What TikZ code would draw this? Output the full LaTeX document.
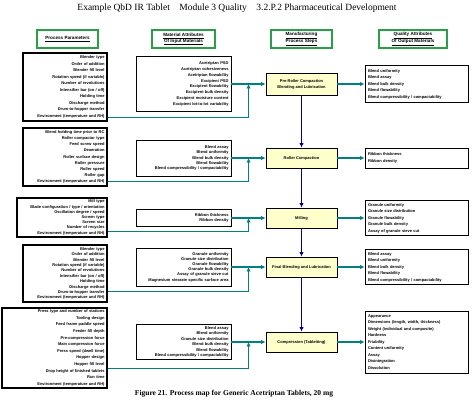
\documentclass[tikz,border=0pt]{standalone}
\usepackage{fontspec}
\setmainfont{Liberation Serif}
\setsansfont{Liberation Sans}
\usetikzlibrary{arrows.meta}
\definecolor{flowteal}{RGB}{0,128,128}
\definecolor{stepblue}{RGB}{0,0,150}
\definecolor{headgreen}{RGB}{40,160,70}
\definecolor{stepfill}{RGB}{255,255,204}

\begin{document}
\begin{tikzpicture}[x=1pt, y=-1pt]

% Set the overall frame of the page
\useasboundingbox (0,0) rectangle (474,403);

% Define styles for headers, boxes and steps
\tikzstyle{head} = [draw=headgreen, line width=1.6pt, fill=white, minimum height=18pt, inner sep=1pt, align=center, font=\sffamily\bfseries\fontsize{4.6}{5.8}\selectfont]
\tikzstyle{param} = [draw=black, line width=1.1pt, fill=white, inner xsep=2.5pt, inner ysep=1pt, text width=79pt, align=right, font=\sffamily\bfseries\fontsize{4}{6.2}\selectfont]
\tikzstyle{matin} = [draw=black, line width=0.9pt, fill=white, inner xsep=2.5pt, inner ysep=1pt, text width=90pt, align=right, font=\sffamily\bfseries\fontsize{4}{5.2}\selectfont]
\tikzstyle{matout} = [draw=black, line width=0.9pt, fill=white, inner xsep=3pt, inner ysep=1pt, text width=97pt, align=left, font=\sffamily\bfseries\fontsize{4}{6.5}\selectfont]
\tikzstyle{stepbox} = [draw=black, line width=0.9pt, fill=stepfill, minimum width=71pt, minimum height=20pt, align=center, font=\sffamily\bfseries\fontsize{4}{6}\selectfont]

% Define styles for the connectors
\tikzstyle{flow} = [draw=flowteal, line width=1.6pt, -{Latex[length=4.5pt,width=4.5pt]}]
\tikzstyle{down} = [draw=stepblue, line width=1.4pt, -{Latex[length=4.5pt,width=4.5pt]}]

% Title and caption
\node[font=\fontsize{9.5}{11}\selectfont] (title) at (237,8) {Example QbD IR Tablet\quad Module 3 Quality\quad 3.2.P.2 Pharmaceutical Development};
\node[font=\bfseries\fontsize{7.5}{9}\selectfont] (caption) at (234,394) {Figure 21. Process map for Generic Acetriptan Tablets, 20 mg};

% Column headers
\node[head, minimum width=61pt] (hpp) at (67.5,39) {\underline{Process Parameters}};
\node[head, minimum width=63pt] (hma) at (183.5,39) {\underline{Material Attributes}\\\underline{Of Input Materials}};
\node[head, minimum width=61pt] (hms) at (301.5,39) {\underline{Manufacturing}\\\underline{Process Steps}};
\node[head, minimum width=68pt] (hqa) at (413,39) {\underline{Quality Attributes}\\\underline{Of Output Materials}};

% Manufacturing steps
\node[stepbox, minimum height=22pt] (s1) at (301.5,84) {Pre-Roller Compaction\\Blending and Lubrication};
\node[stepbox] (s2) at (301.5,158) {Roller Compaction};
\node[stepbox] (s3) at (301.5,218) {Milling};
\node[stepbox] (s4) at (301.5,267) {Final Blending and Lubrication};
\node[stepbox] (s5) at (301.5,342) {Compression (Tabletting)};

% Process parameters
\node[param, minimum height=68pt, font=\sffamily\bfseries\fontsize{4}{6.5}\selectfont] (p1) at (65,87) {Blender type\\Order of addition\\Blender fill level\\Rotation speed (if variable)\\Number of revolutions\\Intensifier bar (on / off)\\Holding time\\Discharge method\\Drum-to-hopper transfer\\Environment (temperature and RH)};
\node[param, minimum height=58pt, font=\sffamily\bfseries\fontsize{4}{6.1}\selectfont] (p2) at (65,157) {Blend holding time prior to RC\\Roller compactor type\\Feed screw speed\\Deaeration\\Roller surface design\\Roller pressure\\Roller speed\\Roller gap\\Environment (temperature and RH)};
\node[param, minimum height=39pt, text width=85pt, font=\sffamily\bfseries\fontsize{4}{5.2}\selectfont] (p3) at (62,217.5) {Mill type\\Blade configuration / type / orientation\\Oscillation degree / speed\\Screen type\\Screen size\\Number of recycles\\Environment (temperature and RH)};
\node[param, minimum height=57pt, font=\sffamily\bfseries\fontsize{4}{5.4}\selectfont] (p4) at (65,273.5) {Blender type\\Order of addition\\Blender fill level\\Rotation speed (if variable)\\Number of revolutions\\Intensifier bar (on / off)\\Holding time\\Discharge method\\Drum-to-hopper transfer\\Environment (temperature and RH)};
\node[param, minimum height=80pt, text width=100pt, font=\sffamily\bfseries\fontsize{4}{6.6}\selectfont] (p5) at (54.5,348) {Press type and number of stations\\Tooling design\\Feed frame paddle speed\\Feeder fill depth\\Pre-compression force\\Main compression force\\Press speed (dwell time)\\Hopper design\\Hopper fill level\\Drop height of finished tablets\\Run time\\Environment (temperature and RH)};

% Material attributes of input materials
\node[matin, minimum height=55pt, font=\sffamily\bfseries\fontsize{4}{5.8}\selectfont] (m1) at (183.5,84) {Acetriptan PSD\\Acetriptan cohesiveness\\Acetriptan flowability\\Excipient PSD\\Excipient flowability\\Excipient bulk density\\Excipient moisture content\\Excipient lot-to-lot variability};
\node[matin, minimum height=36pt] (m2) at (183.5,158) {Blend assay\\Blend uniformity\\Blend bulk density\\Blend flowability\\Blend compressibility / compactability};
\node[matin, minimum height=17pt] (m3) at (183.5,218) {Ribbon thickness\\Ribbon density};
\node[matin, minimum height=38pt] (m4) at (183.5,267) {Granule uniformity\\Granule size distribution\\Granule flowability\\Granule bulk density\\Assay of granule sieve cut\\Magnesium stearate specific surface area};
\node[matin, minimum height=35pt, font=\sffamily\bfseries\fontsize{4}{5.4}\selectfont] (m5) at (183.5,342) {Blend assay\\Blend uniformity\\Granule size distribution\\Blend bulk density\\Blend flowability\\Blend compressibility / compactability};

% Quality attributes of output materials
\node[matout, minimum height=37pt] (o1) at (416.5,84) {Blend uniformity\\Blend assay\\Blend bulk density\\Blend flowability\\Blend compressibility / compactability};
\node[matout, minimum height=20pt] (o2) at (416.5,158) {Ribbon thickness\\Ribbon density};
\node[matout, minimum height=35pt] (o3) at (416.5,218) {Granule uniformity\\Granule size distribution\\Granule flowability\\Granule bulk density\\Assay of granule sieve cut};
\node[matout, minimum height=35pt] (o4) at (416.5,267) {Blend assay\\Blend uniformity\\Blend bulk density\\Blend flowability\\Blend compressibility / compactability};
\node[matout, minimum height=62pt] (o5) at (416.5,342) {Appearance\\Dimensions (length, width, thickness)\\Weight (individual and composite)\\Hardness\\Friability\\Content uniformity\\Assay\\Disintegration\\Dissolution};

% Flow into and out of each step
\foreach \i in {1,...,5} {
  \coordinate (j\i) at ([xshift=-17pt]s\i.west);
  \draw[flow] (m\i.east) -- (s\i.west);
  \draw[flow] (s\i.east) -- (o\i.west);
}

% Process parameters joining the flow
\draw[flow] ([yshift=4pt]p1.south east) -| (j1);
\draw[flow] ([yshift=5pt]p2.south east) -| (j2);
\draw[flow] ([yshift=6pt]p3.south east) -| (j3);
\draw[flow] ([yshift=11pt]p4.south east) -| (j4);
\draw[flow] ([yshift=20pt]p5.south east) -| (j5);

% Step to step
\foreach \a/\b in {1/2,2/3,3/4,4/5}
  \draw[down] (s\a.south) -- (s\b.north);

\end{tikzpicture}
\end{document}
